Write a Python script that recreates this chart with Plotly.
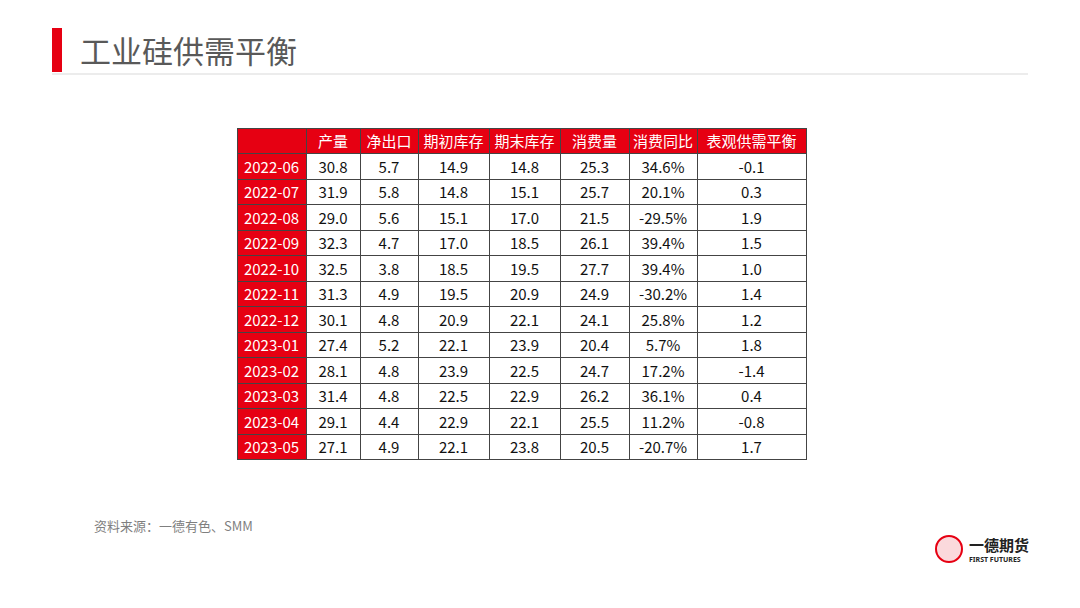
import plotly.graph_objects as go

months = ["2022-06","2022-07","2022-08","2022-09","2022-10","2022-11","2022-12","2023-01","2023-02","2023-03","2023-04","2023-05"]
headers = ["", "产量", "净出口", "期初库存", "期末库存", "消费量", "消费同比", "表观供需平衡"]
production = ["30.8","31.9","29.0","32.3","32.5","31.3","30.1","27.4","28.1","31.4","29.1","27.1"]
net_export = ["5.7","5.8","5.6","4.7","3.8","4.9","4.8","5.2","4.8","4.8","4.4","4.9"]
open_inv = ["14.9","14.8","15.1","17.0","18.5","19.5","20.9","22.1","23.9","22.5","22.9","22.1"]
close_inv = ["14.8","15.1","17.0","18.5","19.5","20.9","22.1","23.9","22.5","22.9","22.1","23.8"]
consumption = ["25.3","25.7","21.5","26.1","27.7","24.9","24.1","20.4","24.7","26.2","25.5","20.5"]
cons_yoy = ["34.6%","20.1%","-29.5%","39.4%","39.4%","-30.2%","25.8%","5.7%","17.2%","36.1%","11.2%","-20.7%"]
balance = ["-0.1","0.3","1.9","1.5","1.0","1.4","1.2","1.8","-1.4","0.4","-0.8","1.7"]

W, H = 1080, 608
O = 8  # page body offset
def px(x): return (x - O) / W
def py(y): return 1 - (y - O) / H

RED = "#e60012"
cols = [months, production, net_export, open_inv, close_inv, consumption, cons_yoy, balance]
widths = [69, 54, 58, 71, 71, 69, 68, 109]
n = len(months)

fig = go.Figure(go.Table(
    columnwidth=widths,
    header=dict(values=headers, fill_color=RED, line_color="#444", height=25.5,
                font=dict(color="white", size=15, family="Noto Sans CJK SC"), align="center"),
    cells=dict(values=cols, height=25.5,
               fill_color=[[RED]*n] + [["white"]*n]*7,
               line_color="#444",
               font=dict(color=[["white"]*n] + [["#111"]*n]*7, size=15, family="Noto Sans CJK SC"),
               align="center"),
    domain=dict(x=[px(237), px(806)], y=[0.2, py(128)]),
))

fig.add_shape(type="rect", xref="paper", yref="paper", x0=px(52), x1=px(62), y0=py(72), y1=py(28),
              fillcolor=RED, line_width=0)
fig.add_shape(type="line", xref="paper", yref="paper", x0=px(52), x1=px(1028), y0=py(74), y1=py(74),
              line=dict(color="#d9d9d9", width=1))
fig.add_annotation(text="工业硅供需平衡", xref="paper", yref="paper", x=px(78), y=py(50),
                   xanchor="left", yanchor="middle", showarrow=False,
                   font=dict(size=31, color="#595959", family="Noto Sans CJK SC"))
fig.add_annotation(text="资料来源：一德有色、SMM", xref="paper", yref="paper", x=px(92), y=py(525),
                   xanchor="left", yanchor="middle", showarrow=False,
                   font=dict(size=13, color="#7f7f7f", family="Noto Sans CJK SC"))
# logo
fig.add_shape(type="circle", xref="paper", yref="paper", x0=px(936), x1=px(962), y0=py(562), y1=py(536),
              line=dict(color=RED, width=2), fillcolor="rgba(230,0,18,0.15)")
fig.add_annotation(text="<b>一德期货</b>", xref="paper", yref="paper", x=px(967), y=py(544),
                   xanchor="left", yanchor="middle", showarrow=False,
                   font=dict(size=15, color="#222", family="Noto Sans CJK SC"))
fig.add_annotation(text="<b>FIRST FUTURES</b>", xref="paper", yref="paper", x=px(967), y=py(559),
                   xanchor="left", yanchor="middle", showarrow=False,
                   font=dict(size=7, color="#222", family="Noto Sans"))

fig.update_layout(width=W, height=H, margin=dict(l=0, r=0, t=0, b=0),
                  paper_bgcolor="white", plot_bgcolor="white")
fig.write_html("out.html")
